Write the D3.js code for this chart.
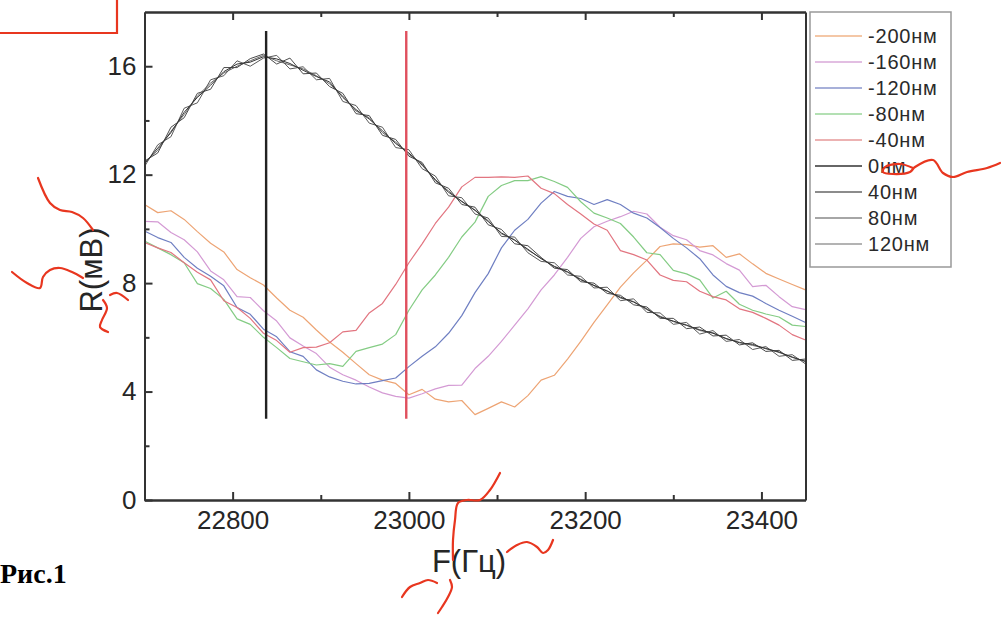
<!DOCTYPE html>
<html><head><meta charset="utf-8">
<script src="https://cdn.jsdelivr.net/npm/d3@7"></script>
<style>body{margin:0;background:#fff}svg{display:block}</style>
</head><body><svg id="c" width="1001" height="617"></svg>
<script>
// ---- data ----
const freqs = [22700,22715,22730,22745,22760,22775,22790,22805,22820,22835,22850,22865,22880,22895,22910,22925,22940,22955,22970,22985,23000,23015,23030,23045,23060,23075,23090,23105,23120,23135,23150,23165,23180,23195,23210,23225,23240,23255,23270,23285,23300,23315,23330,23345,23360,23375,23390,23405,23420,23435,23450];
const seriesNames = ["-200нм","-160нм","-120нм","-80нм","-40нм","0нм","40нм","80нм","120нм"];
const sM200 = [10.9,10.6,10.67,10.35,9.9,9.47,9.15,8.5,8.2,7.93,7.45,7.0,6.74,6.27,5.83,5.45,5.03,4.62,4.42,4.3,3.88,4.08,3.72,3.62,3.67,3.15,3.38,3.62,3.43,3.85,4.42,4.6,5.2,5.85,6.55,7.2,7.85,8.38,8.85,9.35,9.45,9.42,9.33,9.38,8.95,9.08,8.71,8.36,8.15,7.95,7.75];
const sM160 = [10.28,10.26,9.87,9.6,9.15,8.45,8.12,7.5,7.47,6.98,6.6,5.98,5.68,5.4,4.9,4.62,4.42,4.17,3.95,3.82,3.76,3.92,4.1,4.23,4.24,4.85,5.3,5.85,6.45,7.05,7.75,8.3,8.95,9.65,10.08,10.28,10.45,10.65,10.55,10.06,9.75,9.6,9.2,9.04,8.72,8.48,7.87,7.92,7.5,7.13,7.02];
const sM120 = [9.92,9.68,9.5,8.95,8.55,8.25,7.9,7.1,6.85,6.3,6.02,5.47,5.3,4.8,4.54,4.38,4.28,4.3,4.4,4.5,4.92,5.3,5.65,6.15,6.8,7.65,8.35,9.3,9.95,10.35,10.95,11.38,11.2,11.12,10.9,11.08,10.9,10.58,10.4,10.05,9.65,9.3,8.9,8.3,7.88,7.65,7.52,7.25,7.0,6.78,6.55];
const sM80 = [9.55,9.3,9.05,8.75,7.98,7.8,7.4,6.68,6.48,6.0,5.62,5.22,5.1,4.98,5.03,4.93,5.48,5.62,5.75,6.1,7.0,7.75,8.3,8.95,9.7,10.25,11.2,11.6,11.78,11.78,11.93,11.75,11.53,11.0,10.58,10.4,10.2,9.7,9.12,9.05,8.47,8.34,8.12,7.45,7.7,7.22,7.0,6.86,6.75,6.45,6.4];
const sM40 = [9.5,9.3,9.13,8.75,8.4,8.12,7.35,7.1,6.7,6.15,5.88,5.45,5.62,5.64,5.8,6.2,6.26,6.9,7.25,7.95,8.75,9.45,10.2,10.8,11.55,11.9,11.9,11.92,11.9,11.95,11.5,11.3,10.9,10.55,10.18,9.95,9.2,9.05,8.85,8.3,8.1,8.05,7.7,7.5,7.38,7.05,6.92,6.7,6.45,6.1,5.9];
const s0 = [12.4,12.98,13.55,14.3,14.85,15.3,15.8,16.08,16.15,16.35,16.27,16.1,15.85,15.62,15.42,14.85,14.4,14.05,13.62,13.15,12.8,12.35,11.82,11.35,11.02,10.68,10.27,9.85,9.58,9.25,8.9,8.62,8.42,8.12,7.92,7.7,7.48,7.3,7.05,6.75,6.6,6.44,6.28,6.15,5.96,5.8,5.74,5.58,5.46,5.26,5.12];
const s40 = [12.5,12.8,13.75,14.1,15.0,15.15,15.95,15.95,16.28,16.45,16.08,16.3,15.72,15.75,15.25,15.0,14.25,14.18,13.45,13.3,12.68,12.45,11.7,11.5,10.9,10.8,10.15,9.98,9.45,9.38,8.95,8.55,8.5,8.05,8.0,7.62,7.55,7.2,7.12,6.7,6.7,6.32,6.38,6.05,6.08,5.72,5.8,5.48,5.52,5.15,5.2];
const s80 = [12.3,13.1,13.4,14.45,14.65,15.5,15.65,16.2,16.0,16.3,16.4,15.9,15.98,15.5,15.55,14.7,14.55,13.9,13.75,13.0,12.92,12.22,11.95,11.22,11.15,10.55,10.4,9.72,9.7,9.12,8.8,8.75,8.3,8.25,7.82,7.85,7.35,7.42,6.92,6.9,6.48,6.55,6.12,6.25,5.85,5.92,5.55,5.66,5.3,5.36,5.02];
const s120 = [12.45,12.9,13.6,14.22,14.9,15.38,15.75,16.0,16.2,16.4,16.2,16.05,15.9,15.65,15.35,14.9,14.35,14.1,13.55,13.2,12.75,12.4,11.78,11.4,11.0,10.7,10.3,9.82,9.6,9.22,8.92,8.6,8.4,8.15,7.9,7.72,7.45,7.32,7.02,6.78,6.58,6.46,6.25,6.17,5.94,5.82,5.7,5.6,5.44,5.28,5.1];
const seriesValues = [sM200, sM160, sM120, sM80, sM40, s0, s40, s80, s120];
const lineColors = ["#eda474","#d49ad4","#6f7fc2","#84cc84","#e27580","#333333","#4a4a4a","#5a5a5a","#686868"];
const legendColors = ["#f0b488","#d8a8d8","#8a96cc","#9ad69a","#e69898","#333333","#666666","#888888","#9a9a9a"];
const xMajorTicks = [22800, 23000, 23200, 23400];
const xMinorTicks = [22900, 23100, 23300];
const yMajorTicks = [0, 4, 8, 12, 16];
const yMinorTicks = [2, 6, 10, 14];
const markerFreqs = [22838, 22997];
const markerColors = ["#222222", "#e0505e"];
const markerRange = [3, 17.3];
const xTitle = "F(Гц)", yTitle = "R(мВ)", figLabel = "Рис.1";

// ---- chart ----
const svg = d3.select("#c");
const font = "'Liberation Sans', Arial, sans-serif";
const x = d3.scaleLinear().domain([22700, 23450]).range([144.5, 805.5]);
const y = d3.scaleLinear().domain([0, 18]).range([500, 12]);
const axisColor = "#333";

function styleAxis(g) {
  g.selectAll("path.domain").attr("stroke", axisColor).attr("stroke-width", 2);
  g.selectAll(".tick line").attr("stroke", axisColor).attr("stroke-width", 2);
  g.selectAll(".tick text").attr("fill", "#262626").style("font-family", font).style("font-size", "26px");
}

// curves
const line = d3.line().x((d, i) => x(freqs[i])).y(d => y(d));
const drawOrder = [0, 1, 2, 3, 4, 8, 7, 6, 5];
drawOrder.forEach(k => {
  svg.append("path").datum(seriesValues[k])
    .attr("d", line).attr("fill", "none")
    .attr("stroke", lineColors[k]).attr("stroke-width", k >= 5 ? 1.0 : 1.2)
    .attr("stroke-linejoin", "round");
});

// markers
markerFreqs.forEach((f, i) => {
  svg.append("line").attr("x1", x(f)).attr("x2", x(f))
    .attr("y1", y(markerRange[0])).attr("y2", y(markerRange[1]))
    .attr("stroke", markerColors[i]).attr("stroke-width", 2.4);
});

// axes
const gB = svg.append("g").attr("transform", "translate(0,500)")
  .call(d3.axisBottom(x).tickValues(xMajorTicks).tickSizeInner(-8).tickSizeOuter(0).tickPadding(11).tickFormat(d3.format("d")));
styleAxis(gB);
const gBm = svg.append("g").attr("transform", "translate(0,500)")
  .call(d3.axisBottom(x).tickValues(xMinorTicks).tickSizeInner(-5).tickSizeOuter(0).tickFormat(""));
styleAxis(gBm);
const gT = svg.append("g").attr("transform", "translate(0,12)")
  .call(d3.axisTop(x).tickValues(xMajorTicks).tickSizeInner(-8).tickSizeOuter(0).tickFormat(""));
styleAxis(gT);
const gTm = svg.append("g").attr("transform", "translate(0,12)")
  .call(d3.axisTop(x).tickValues(xMinorTicks).tickSizeInner(-5).tickSizeOuter(0).tickFormat(""));
styleAxis(gTm);
const gL = svg.append("g").attr("transform", "translate(144.5,0)")
  .call(d3.axisLeft(y).tickValues(yMajorTicks).tickSizeInner(-8).tickSizeOuter(0).tickPadding(8));
styleAxis(gL);
const gLm = svg.append("g").attr("transform", "translate(144.5,0)")
  .call(d3.axisLeft(y).tickValues(yMinorTicks).tickSizeInner(-5).tickSizeOuter(0).tickFormat(""));
styleAxis(gLm);
const gR = svg.append("g").attr("transform", "translate(805.5,0)")
  .call(d3.axisRight(y).tickValues([]).tickSizeOuter(0));
styleAxis(gR);

// axis titles
svg.append("text").attr("x", 469).attr("y", 572).attr("text-anchor", "middle")
  .style("font-family", font).style("font-size", "31px").attr("fill", "#262626").text(xTitle);
svg.append("text").attr("transform", "translate(102,270) rotate(-90)").attr("text-anchor", "middle")
  .style("font-family", font).style("font-size", "31px").attr("fill", "#262626").text(yTitle);

// legend
const lg = svg.append("g");
lg.append("rect").attr("x", 810).attr("y", 12).attr("width", 141).attr("height", 255)
  .attr("fill", "#fff").attr("stroke", "#999").attr("stroke-width", 1.5);
seriesNames.forEach((name, i) => {
  const cy = 36 + i * 26;
  lg.append("line").attr("x1", 815).attr("x2", 862).attr("y1", cy).attr("y2", cy)
    .attr("stroke", legendColors[i]).attr("stroke-width", 1.3);
  lg.append("text").attr("x", 868).attr("y", cy).attr("dy", "0.36em")
    .style("font-family", font).style("font-size", "20px").style("letter-spacing", "0.8px")
    .attr("fill", "#2a2a2a").text(name);
});

// figure label
svg.append("text").attr("x", 0).attr("y", 583)
  .style("font-family", "'Liberation Serif', 'Times New Roman', serif").style("font-size", "28px")
  .style("font-weight", "bold").attr("fill", "#000").text(figLabel);

// red hand-drawn annotations over the figure
const scribbles = [
  {straight: true, pts: [[0,33],[117,33],[117,0]]},
  {pts: [[38,178],[50,203],[60,210],[72,212],[83,218],[93,230]]},
  {pts: [[12,272],[27,283],[40,288],[43,277],[50,270],[60,268],[72,272],[83,278]]},
  {pts: [[110,295],[117,293],[128,300]]},
  {pts: [[103,300],[107,308],[102,320],[100,327],[108,332]]},
  {pts: [[500,473],[490,490],[480,500],[467,500],[458,503],[455,520],[453,540],[453,560]]},
  {pts: [[507,552],[517,545],[527,542],[537,547],[543,553],[548,550],[553,540]]},
  {pts: [[402,597],[410,587],[420,583],[428,580],[437,583]]},
  {pts: [[450,580],[452,587],[448,597],[442,607],[438,613]]},
  {pts: [[913,168],[900,164],[885,167],[883,172],[893,174],[910,172],[915,167],[933,160],[943,173],[953,177],[967,172],[987,168],[1000,163]]}
];
const sCurve = d3.line().curve(d3.curveCatmullRom.alpha(0.5));
const sStraight = d3.line();
scribbles.forEach(s => {
  svg.append("path").attr("d", (s.straight ? sStraight : sCurve)(s.pts)).attr("fill", "none")
    .attr("stroke", "#e8361f").attr("stroke-width", 2.2).attr("stroke-linecap", "round");
});
</script>
</body></html>
